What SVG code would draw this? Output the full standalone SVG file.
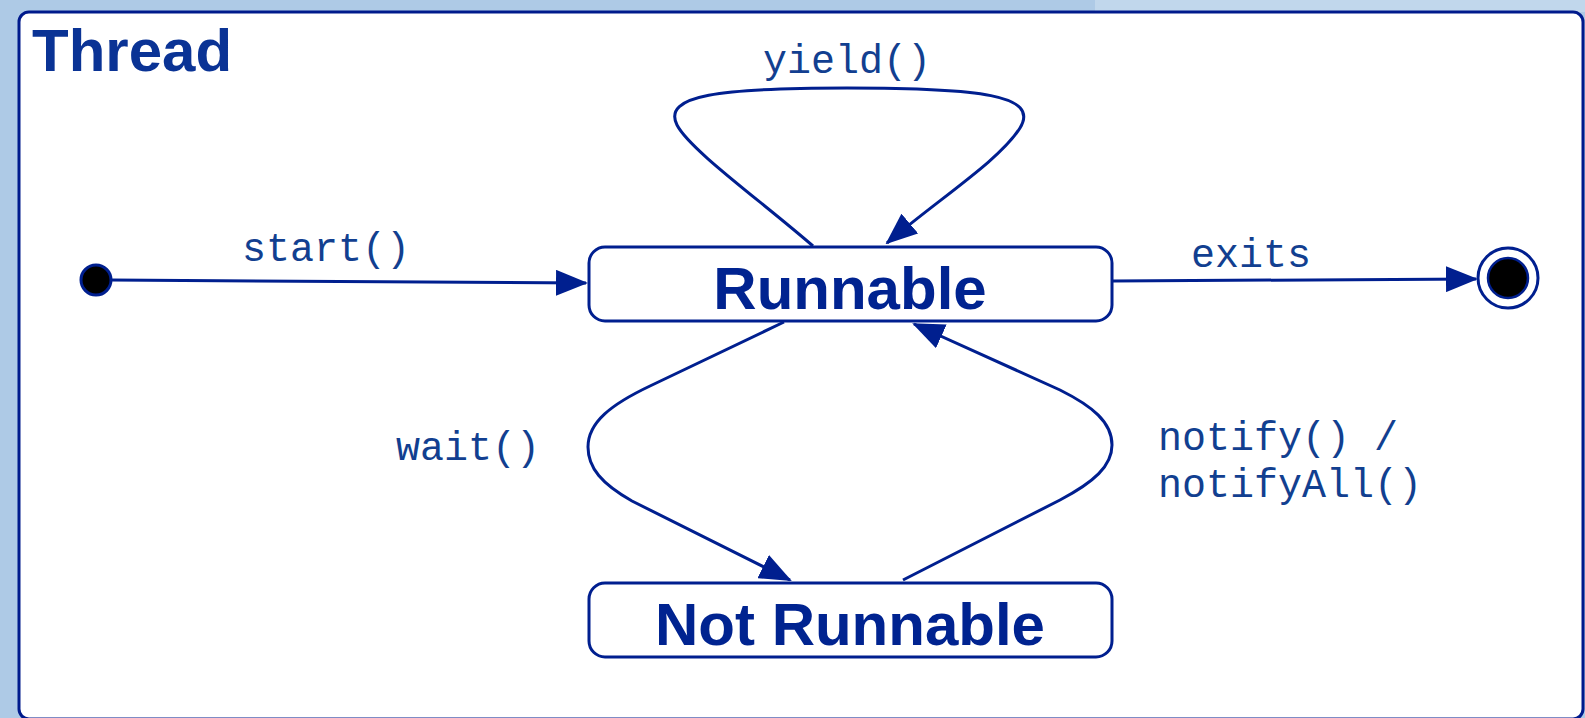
<svg xmlns="http://www.w3.org/2000/svg" width="1585" height="718" viewBox="0 0 1585 718">
  <style>
    .frame { fill: #ffffff; stroke: #001a8c; stroke-width: 3; }
    .state { fill: #ffffff; stroke: #001f8f; stroke-width: 3; }
    .state-name { font-family: "Liberation Sans", Arial, sans-serif; font-weight: bold; font-size: 60px; fill: #002390; text-anchor: middle; }
    .title { font-family: "Liberation Sans", Arial, sans-serif; font-weight: bold; font-size: 60px; fill: #0a3395; }
    .edge { fill: none; stroke: #001f8f; stroke-width: 3; marker-end: url(#arrow); }
    .label { font-family: "Liberation Mono", "Courier New", monospace; font-size: 40px; fill: #123f90; }
  </style>
  <defs>
    <marker id="arrow" viewBox="0 0 32 26" refX="30" refY="13" markerWidth="32" markerHeight="26" markerUnits="userSpaceOnUse" orient="auto">
      <path d="M0,0 L32,13 L0,26 z" fill="#001f8f"/>
    </marker>
  </defs>

  <!-- backdrop -->
  <rect x="0" y="0" width="1585" height="718" fill="#aecae6"/>
  <rect x="1095" y="0" width="490" height="12" fill="#c1d7ec"/>

  <!-- enclosing composite state -->
  <g id="thread">
    <rect class="frame" x="19" y="12" width="1564" height="707" rx="10"/>
    <text class="title" x="32" y="71">Thread</text>
  </g>

  <g id="initial">
    <circle cx="96" cy="280" r="15" fill="#000000" stroke="#001f8f" stroke-width="3"/>
  </g>

  <g id="runnable">
    <rect class="state" x="589" y="247" width="523" height="74" rx="16"/>
    <text class="state-name" x="850" y="309">Runnable</text>
  </g>

  <g id="not-runnable">
    <rect class="state" x="589" y="583" width="523" height="74" rx="16"/>
    <text class="state-name" x="850" y="645">Not Runnable</text>
  </g>

  <g id="final">
    <circle cx="1508" cy="278" r="30" fill="#ffffff" stroke="#001f8f" stroke-width="3"/>
    <circle cx="1508" cy="278" r="20" fill="#000000" stroke="#001f8f" stroke-width="2.5"/>
  </g>

  <g id="connectors">
    <!-- start() -->
    <path class="edge" d="M111,280 L586,283"/>
    <text class="label" x="242" y="261">start()</text>

    <!-- exits -->
    <path class="edge" d="M1113,281 L1476,279"/>
    <text class="label" x="1191" y="267">exits</text>

    <!-- yield() self loop -->
    <path class="edge" d="M813,246 C760,200 690,150 677,125 C662,95 720,88 847,88 C980,88 1040,95 1020,128 C1000,160 940,198 887,243"/>
    <text class="label" x="763" y="73">yield()</text>

    <!-- wait() -->
    <path class="edge" d="M784,322 L650,386 C612,404 588,422 588,447 C588,468 602,484 632,501 L790,580"/>
    <text class="label" x="396" y="460">wait()</text>

    <!-- notify() / notifyAll() -->
    <path class="edge" d="M903,580 L1060,500 C1094,482 1112,466 1112,445 C1112,422 1092,406 1060,390 L914,324"/>
    <text class="label" x="1158" y="450">notify() /</text>
    <text class="label" x="1158" y="497">notifyAll()</text>
  </g>
</svg>
